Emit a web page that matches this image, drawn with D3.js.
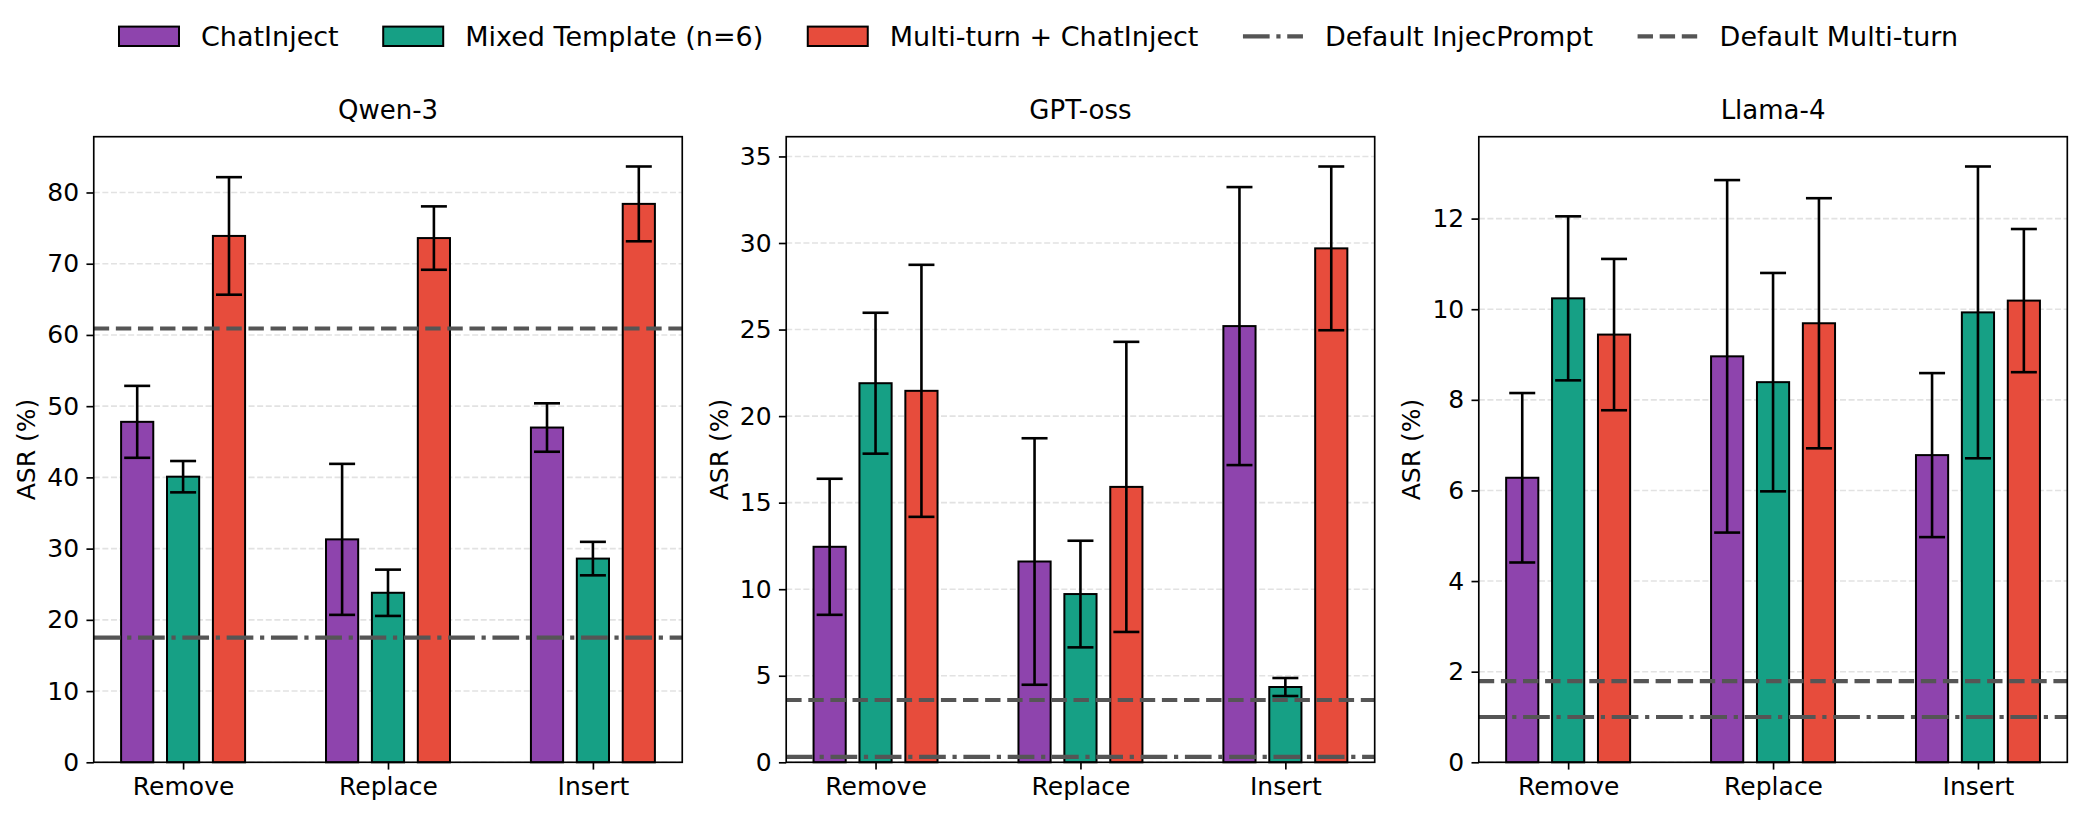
<!DOCTYPE html>
<html>
<head>
<meta charset="utf-8">
<script src="https://cdn.jsdelivr.net/npm/d3@7"></script>
<style>
  body { margin: 0; background: #ffffff; }
  svg { font-family: "DejaVu Sans", sans-serif; }
</style>
</head>
<body>
<svg id="chart" width="2083" height="817"></svg>
<script>

// categories, models and series
const categories = ["Remove", "Replace", "Insert"];
const models = ["Qwen-3", "GPT-oss", "Llama-4"];
const seriesNames = ["ChatInject", "Mixed Template (n=6)", "Multi-turn + ChatInject"];
const seriesColors = ["#8e44ad", "#16a085", "#e74c3c"];

// ASR (%) per category
const qwenChat = [47.8, 31.3, 47.0];
const qwenMixed = [40.1, 23.8, 28.6];
const qwenMulti = [73.9, 73.6, 78.4];
const qwenChatErr = [5.05, 10.6, 3.4];
const qwenMixedErr = [2.2, 3.25, 2.35];
const qwenMultiErr = [8.25, 4.45, 5.25];

const gptChat = [12.45, 11.6, 25.2];
const gptMixed = [21.9, 9.72, 4.35];
const gptMulti = [21.46, 15.91, 29.69];
const gptChatErr = [3.93, 7.12, 8.03];
const gptMixedErr = [4.07, 3.08, 0.52];
const gptMultiErr = [7.28, 8.38, 4.73];

const llamaChat = [6.28, 8.96, 6.78];
const llamaMixed = [10.24, 8.39, 9.93];
const llamaMulti = [9.44, 9.69, 10.19];
const llamaChatErr = [1.87, 3.89, 1.81];
const llamaMixedErr = [1.81, 2.41, 3.22];
const llamaMultiErr = [1.67, 2.76, 1.58];

// baselines per model (Qwen-3, GPT-oss, Llama-4)
const defaultInjecPrompt = [17.5, 0.31, 1.0];
const defaultMultiTurn = [60.9, 3.6, 1.79];

// y tick labels per model
const yTicksQwen = [0, 10, 20, 30, 40, 50, 60, 70, 80];
const yTicksGpt = [0, 5, 10, 15, 20, 25, 30, 35];
const yTicksLlama = [0, 2, 4, 6, 8, 10, 12];

// table built from the arrays above
const panels = [
  {values: [qwenChat, qwenMixed, qwenMulti], errors: [qwenChatErr, qwenMixedErr, qwenMultiErr], ticks: yTicksQwen},
  {values: [gptChat, gptMixed, gptMulti], errors: [gptChatErr, gptMixedErr, gptMultiErr], ticks: yTicksGpt},
  {values: [llamaChat, llamaMixed, llamaMulti], errors: [llamaChatErr, llamaMixedErr, llamaMultiErr], ticks: yTicksLlama}
];

// layout
const panelLeft = [93.75, 786.2, 1478.8];
const panelWidth = 588.5;
const panelTop = 136.7;
const panelHeight = 762.3 - 136.7;
const tickFont = 25;
const lineGrey = "#555555";
const refWidth = 4.17;
const dashed = "15.4,6.7";
const dashDot = "26.7,6.7,4.2,6.7";

var svg = d3.select("#chart");

panels.forEach(function (p, m) {
  var g = svg.append("g")
      .attr("transform", "translate(" + panelLeft[m] + "," + panelTop + ")");

  // x-schaal: a point per category, padding like matplotlib's margins
  var x = d3.scalePoint()
      .domain(categories)
      .range([0, panelWidth])
      .padding(0.436);
  var step = x.step();
  var barW = 0.157 * step;
  var offset = 0.224 * step;

  // y-schaal: top of highest error bar plus 5%
  var top = d3.max(p.values, function (v, s) {
    return d3.max(v, function (d, i) { return d + p.errors[s][i]; });
  });
  var y = d3.scaleLinear()
      .domain([0, top * 1.05])
      .range([panelHeight, 0]);

  // grid lines
  g.append("g").selectAll("line")
      .data(p.ticks)
      .join("line")
      .attr("x1", 0).attr("x2", panelWidth)
      .attr("y1", function (d) { return y(d); })
      .attr("y2", function (d) { return y(d); })
      .attr("stroke", "#e2e2e2")
      .attr("stroke-width", 1.6)
      .attr("stroke-dasharray", "6,2.6");

  // bars
  p.values.forEach(function (vals, s) {
    g.append("g").selectAll("rect")
        .data(vals)
        .join("rect")
        .attr("x", function (d, i) { return x(categories[i]) + (s - 1) * offset - barW / 2; })
        .attr("y", function (d) { return y(d); })
        .attr("width", barW)
        .attr("height", function (d) { return y(0) - y(d); })
        .attr("fill", seriesColors[s])
        .attr("stroke", "#000")
        .attr("stroke-width", 2);
  });

  // baselines
  g.append("line")
      .attr("x1", 0).attr("x2", panelWidth)
      .attr("y1", y(defaultMultiTurn[m])).attr("y2", y(defaultMultiTurn[m]))
      .attr("stroke", lineGrey).attr("stroke-width", refWidth)
      .attr("stroke-dasharray", dashed);
  g.append("line")
      .attr("x1", 0).attr("x2", panelWidth)
      .attr("y1", y(defaultInjecPrompt[m])).attr("y2", y(defaultInjecPrompt[m]))
      .attr("stroke", lineGrey).attr("stroke-width", refWidth)
      .attr("stroke-dasharray", dashDot);

  // error bars
  p.values.forEach(function (vals, s) {
    var eg = g.append("g").attr("stroke", "#000").attr("stroke-width", 2.6);
    vals.forEach(function (d, i) {
      var cx = x(categories[i]) + (s - 1) * offset;
      var e = p.errors[s][i];
      eg.append("line")
          .attr("x1", cx).attr("x2", cx)
          .attr("y1", y(d - e)).attr("y2", y(d + e));
      eg.append("line")
          .attr("x1", cx - 13).attr("x2", cx + 13)
          .attr("y1", y(d - e)).attr("y2", y(d - e));
      eg.append("line")
          .attr("x1", cx - 13).attr("x2", cx + 13)
          .attr("y1", y(d + e)).attr("y2", y(d + e));
    });
  });

  // axes
  var yAxis = g.append("g")
      .call(d3.axisLeft(y).tickValues(p.ticks).tickSize(7.3).tickPadding(7.3));
  var xAxis = g.append("g")
      .attr("transform", "translate(0," + panelHeight + ")")
      .call(d3.axisBottom(x).tickSize(7.3).tickPadding(7.6));
  [yAxis, xAxis].forEach(function (a) {
    a.attr("font-family", null).attr("font-size", tickFont);
    a.select(".domain").remove();
    a.selectAll(".tick line").attr("stroke", "#000").attr("stroke-width", 1.67);
    a.selectAll(".tick text").attr("fill", "#000");
  });

  // frame
  g.append("rect")
      .attr("width", panelWidth).attr("height", panelHeight)
      .attr("fill", "none").attr("stroke", "#000").attr("stroke-width", 1.67);

  // title and y label
  g.append("text")
      .attr("x", panelWidth / 2).attr("y", 119 - panelTop)
      .attr("text-anchor", "middle")
      .attr("font-size", 26)
      .text(models[m]);
  g.append("text")
      .attr("transform", "translate(-58.5," + panelHeight / 2 + ") rotate(-90)")
      .attr("text-anchor", "middle")
      .attr("font-size", 25)
      .text("ASR (%)");
});

// legend
var legendItems = seriesNames.map(function (n, i) { return {label: n, color: seriesColors[i]}; })
    .concat([{label: "Default InjecPrompt", dash: dashDot}, {label: "Default Multi-turn", dash: dashed}]);
var handleW = 60, handlePad = 22, colGap = 44.5, legendY = 36.3, legendFont = 27;

var legend = svg.append("g");
var xpos = 0;
legendItems.forEach(function (item) {
  var it = legend.append("g").attr("transform", "translate(" + xpos + ",0)");
  if (item.color) {
    it.append("rect")
        .attr("x", 0).attr("y", legendY - 9.7)
        .attr("width", handleW).attr("height", 19.4)
        .attr("fill", item.color).attr("stroke", "#000").attr("stroke-width", 2);
  } else {
    it.append("line")
        .attr("x1", 0).attr("x2", handleW)
        .attr("y1", legendY).attr("y2", legendY)
        .attr("stroke", lineGrey).attr("stroke-width", refWidth)
        .attr("stroke-dasharray", item.dash);
  }
  var t = it.append("text")
      .attr("x", handleW + handlePad).attr("y", legendY + 0.36 * legendFont)
      .attr("font-size", legendFont)
      .text(item.label);
  xpos += handleW + handlePad + t.node().getComputedTextLength() + colGap;
});
var legendWidth = xpos - colGap;
legend.attr("transform", "translate(" + (1038.5 - legendWidth / 2) + ",0)");

</script>
</body>
</html>
